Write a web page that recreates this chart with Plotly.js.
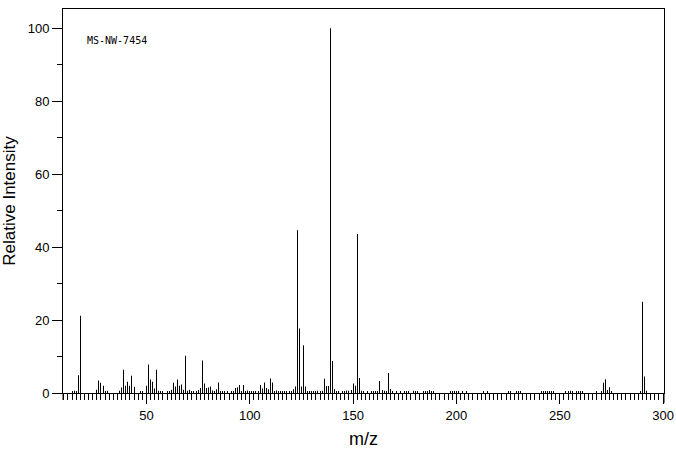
<!DOCTYPE html>
<html>
<head>
<meta charset="utf-8">
<script src="https://cdn.plot.ly/plotly-3.0.1.min.js"></script>
<style>html,body{margin:0;padding:0;background:#fff;}#chart{width:676px;height:455px;}</style>
</head>
<body>
<div id="chart"></div>
<script>
// m/z values of the peaks
const mz = [14,15,16,17,18,
  26,27,28,29,30,31,
  37,38,39,40,41,42,43,44,
  47,48,50,51,52,53,54,55,56,57,58,
  60,61,62,63,64,65,66,67,68,69,70,71,72,73,74,75,76,77,78,79,80,81,82,83,84,85,
  86,87,88,89,91,92,93,94,95,96,97,98,99,100,101,102,103,104,105,106,107,108,109,110,111,
  112,113,114,115,116,117,118,119,120,121,122,123,124,125,126,127,128,129,130,131,132,133,134,135,
  136,137,138,139,140,141,142,143,145,146,147,148,149,150,151,152,153,154,155,157,159,160,161,162,
  163,164,165,166,167,168,169,171,173,175,176,177,179,180,181,184,185,186,187,188,189,
  197,198,199,200,201,203,205,213,215,225,226,229,230,231,241,242,243,244,245,246,247,
  253,254,255,256,258,259,260,261,268,270,271,272,273,274,275,289,290,291,292];
// relative intensities (%)
const intensity = [0.4,0.6,0.4,4.9,21.2,
  0.9,3.4,2.8,2.0,0.4,0.6,
  0.6,1.5,6.4,2.0,3.1,2.0,4.7,1.7,
  0.4,0.4,2.0,7.8,3.7,3.1,1.2,6.4,0.6,0.4,0.4,
  0.4,0.4,0.9,2.8,1.8,3.7,2.0,2.3,0.9,10.2,0.6,0.9,0.3,0.4,0.5,0.8,1.4,8.9,2.6,1.4,1.5,1.8,0.7,0.5,1.0,2.9,
  0.4,0.3,0.3,0.5,0.3,0.4,1.4,1.6,2.2,0.5,2.2,0.3,0.7,0.3,0.3,0.3,0.3,0.3,2.2,1.2,2.9,1.4,1.0,4.0,2.9,
  0.3,0.7,0.3,0.5,0.3,0.3,0.4,0.3,0.3,1.0,1.8,44.6,17.7,1.8,13.1,1.8,0.4,0.3,0.3,0.4,0.3,0.6,0.4,0.6,
  3.9,1.9,1.9,100,8.8,1.0,0.3,0.3,0.4,0.5,0.7,0.6,0.8,2.6,2.0,43.6,4.1,0.6,0.4,0.3,0.3,0.3,0.3,0.3,
  3.3,0.8,0.6,0.5,5.5,1.1,0.4,0.3,0.3,0.3,0.3,0.3,0.6,0.3,0.3,0.3,0.3,0.3,0.8,0.3,0.3,
  0.3,0.3,0.3,0.3,0.3,0.3,0.3,0.3,0.3,0.3,0.3,0.3,0.3,0.3,0.3,0.3,0.4,0.3,0.4,0.3,0.3,
  0.3,0.3,0.6,0.3,0.3,0.3,0.5,0.3,0.3,0.3,2.8,3.8,0.8,1.6,0.3,0.4,25.0,4.5,0.6];

const xTitle = 'm/z';
const yTitle = 'Relative Intensity';
const label = 'MS-NW-7454';

const xRange = [9.64, 300.43];
const yRange = [0, 105.3];
const font = 'Liberation Sans, Arial, sans-serif';

const trace = {
  type: 'bar', x: mz, y: intensity, width: 0.01,
  marker: {color: '#000', line: {width: 0}},
  hoverinfo: 'x+y'
};

const layout = {
  width: 676, height: 455,
  margin: {l: 63, r: 12, t: 9, b: 62, pad: 0},
  paper_bgcolor: '#fff', plot_bgcolor: '#fff',
  showlegend: false,
  font: {family: font, color: '#000', size: 13},
  xaxis: {
    range: xRange, showline: true, linecolor: '#000', linewidth: 1, mirror: true,
    ticks: 'outside', tickmode: 'linear', tick0: 0, dtick: 50, ticklen: 10, tickwidth: 1, tickcolor: '#000',
    minor: {ticks: 'outside', tickmode: 'linear', tick0: 0, dtick: 2, ticklen: 6, tickwidth: 1, tickcolor: '#000', showgrid: false},
    showgrid: false, zeroline: false,
    tickfont: {family: font, size: 13, color: '#000'},
    title: {text: xTitle, font: {family: font, size: 18, color: '#000'}, standoff: 10}
  },
  xaxis2: {
    overlaying: 'x', anchor: 'y', side: 'bottom', range: xRange,
    ticks: 'outside', tickmode: 'linear', tick0: 0, dtick: 10, ticklen: 8, tickwidth: 1, tickcolor: '#000',
    showticklabels: false, showline: false, showgrid: false, zeroline: false
  },
  yaxis: {
    range: yRange, showline: true, linecolor: '#000', linewidth: 1, mirror: true,
    ticks: 'outside', tickmode: 'linear', tick0: 0, dtick: 20, ticklen: 10, tickwidth: 1, tickcolor: '#000',
    minor: {ticks: 'outside', tickmode: 'linear', tick0: 0, dtick: 10, ticklen: 5, tickwidth: 1, tickcolor: '#000', showgrid: false},
    showgrid: false, zeroline: false,
    tickfont: {family: font, size: 13, color: '#000'},
    title: {text: yTitle, font: {family: font, size: 17, color: '#000'}, standoff: 8}
  },
  annotations: [{
    text: label, xref: 'paper', yref: 'paper', x: 0.037, y: 0.917,
    xanchor: 'left', yanchor: 'middle', showarrow: false,
    font: {family: 'DejaVu Sans Mono, monospace', size: 10, color: '#000'}
  }],
  shapes: [
    {type: 'line', xref: 'paper', yref: 'paper', x0: 0, x1: 0, y0: 0, y1: -0.018, line: {color: '#000', width: 1}},
    {type: 'line', xref: 'paper', yref: 'paper', x0: 1, x1: 1, y0: 0, y1: -0.026, line: {color: '#000', width: 1}}
  ]
};

Plotly.newPlot('chart', [trace], layout, {displayModeBar: false, responsive: false});
</script>
</body>
</html>
